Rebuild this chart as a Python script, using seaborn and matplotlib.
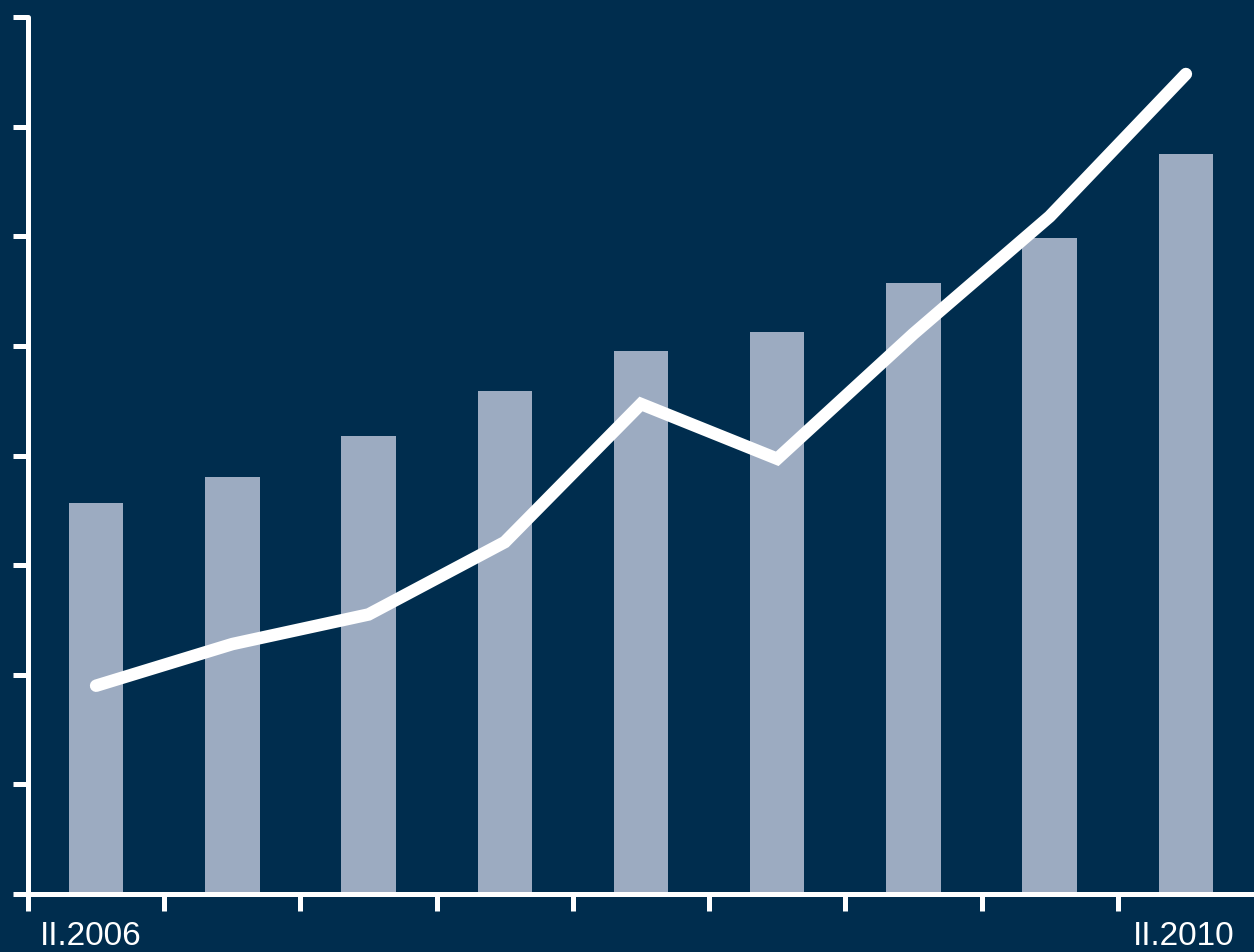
import matplotlib
matplotlib.use("Agg")
import matplotlib.pyplot as plt
import seaborn as sns
import numpy as np

periods = ["II.2006", "II.2006b", "II.2007", "II.2007b", "II.2008", "II.2008b", "II.2009", "II.2009b", "II.2010"]
bar_values = [3.57, 3.80, 4.18, 4.59, 4.95, 5.13, 5.57, 5.98, 6.75]
line_values = [1.90, 2.28, 2.55, 3.21, 4.47, 3.97, 5.11, 6.18, 7.48]
first_label = "II.2006"
last_label = "II.2010"

BG = "#002d4e"
BAR = "#9cabc1"

sns.set_theme(style="white")
plt.rcParams["font.family"] = ["Liberation Sans", "DejaVu Sans"]

fig = plt.figure(figsize=(12.54, 9.53), dpi=100, facecolor=BG)
ax = fig.add_axes([28/1254, 1 - 895/953, (1254 - 28)/1254, (895 - 18)/953])
ax.set_facecolor(BG)

idx = np.arange(len(periods))
sns.barplot(x=idx, y=bar_values, width=0.4, color=BAR, saturation=1, ax=ax, zorder=2,
            edgecolor=BAR, linewidth=0)
sns.lineplot(x=idx, y=line_values, color="white", linewidth=9, ax=ax, zorder=3,
             solid_capstyle="round", solid_joinstyle="miter")

ax.set_xlim(-0.49, 8.5)
ax.set_ylim(0, 8)
ax.set_xticks(idx - 0.5)
ax.set_yticks(np.arange(0, 9))
ax.set_xticklabels([])
ax.set_yticklabels([])
for s in ["top", "right"]:
    ax.spines[s].set_visible(False)
for s in ["left", "bottom"]:
    ax.spines[s].set_color("white")
    ax.spines[s].set_linewidth(3.6)
    ax.spines[s].set_capstyle("round")
ax.tick_params(axis="both", colors="white", width=3.6, length=11, direction="out",
               bottom=True, left=True)
ax.tick_params(axis="x", length=12)
ax.grid(False)

fig.text(40/1254, 1 - 921/953, first_label, color="white", fontsize=24, ha="left", va="top")
fig.text(1234/1254, 1 - 921/953, last_label, color="white", fontsize=24, ha="right", va="top")

fig.savefig("out.png", dpi=100, facecolor=BG)
